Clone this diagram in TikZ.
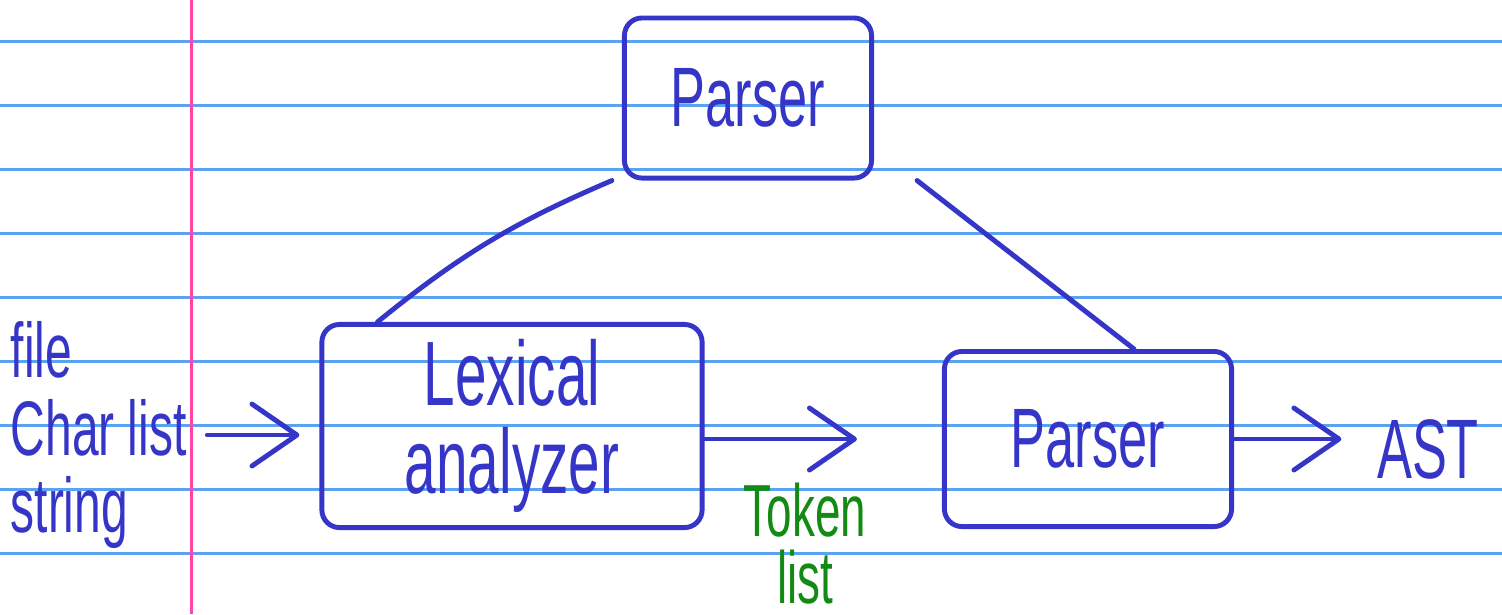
\documentclass[tikz,border=0pt]{standalone}
\usepackage{fontspec}
\setmainfont{Liberation Sans}[FakeStretch=0.62]
\usetikzlibrary{arrows.meta}
\definecolor{ink}{HTML}{3535C8}
\definecolor{inkgreen}{HTML}{138A13}
\definecolor{ruleblue}{HTML}{5AA2F2}
\definecolor{marginpink}{HTML}{FF44AA}

\begin{document}
\begin{tikzpicture}[
                  x = 0.01cm,
                  y = -0.01cm,
  every node/.style = {text=ink, inner sep=0pt, font=\fontsize{24}{22}\selectfont},
       stage/.style = {draw=ink, line width=1.4pt, rounded corners=5pt},
        link/.style = {draw=ink, line width=1.4pt, line cap=round},
        flow/.style = {link, -{Straight Barb[length=4.5mm,width=6.2mm,round]}},
                   ]
% lined paper
\fill[white] (0,0) rectangle (1502,614);
\useasboundingbox (0,0) rectangle (1502,614);
\foreach \k in {0,...,8}
    \draw[ruleblue, line width=0.6pt] (0,41.5+64*\k) -- (1502,41.5+64*\k);
\draw[marginpink, line width=0.8pt] (191.5,0) -- (191.5,614);

% stages
\node[stage, minimum width=2.47cm, minimum height=1.6cm] (top) at (748,98) {Parser};
\node[stage, minimum width=3.8cm, minimum height=2.03cm, align=center,
      font=\fontsize{26}{25}\selectfont] (lex) at (512,426) {Lexical\\analyzer};
\node[stage, minimum width=2.87cm, minimum height=1.75cm] (parse) at (1088,439) {Parser};

% inputs and outputs
\node[anchor=west, align=left, font=\fontsize{22}{22}\selectfont] (src) at (10,435) {file\\Char list\\string};
\node (ast) at (1428,449) {AST};
\node[anchor=north, text=inkgreen, align=center, font=\fontsize{21}{19}\selectfont] (toks) at (805,482) {Token\\list};

% connectors
\draw[flow, shorten <=0.2cm, shorten >=0.2cm] (src.east) -- (src.east -| lex.west);
\draw[flow, shorten >=0.85cm] (lex.east |- parse.west) -- (parse.west);
\draw[flow, shorten >=0.35cm] (parse.east) -- (ast.west |- parse.east);
\draw[link] ([xshift=-0.1cm]top.south west) to[bend right=8] ([xshift=0.58cm]lex.north west);
\draw[link] ([xshift=0.43cm]top.south east) -- ([xshift=-1cm]parse.north east);
\end{tikzpicture}
\end{document}
